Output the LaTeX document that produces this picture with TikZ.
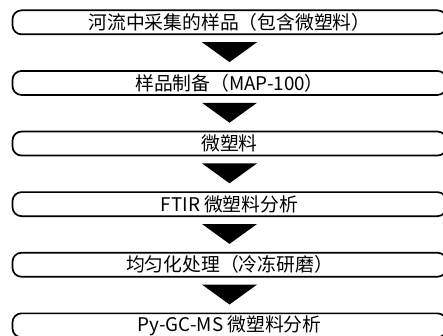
\documentclass[tikz,border=0pt]{standalone}
\usepackage{fontspec}
\setmainfont{Noto Sans CJK SC}
\usetikzlibrary{calc}
\tikzset{
  stepbox/.style={draw=black, line width=1.7pt, rounded corners=9pt, minimum width=434pt, minimum height=24pt, inner sep=0pt, font=\fontsize{18.8}{21}\selectfont, anchor=north},
  downtri/.style={fill=black}
}
\begin{document}
\begin{tikzpicture}[x=1pt,y=-1pt]
\useasboundingbox (0,0) rectangle (443,336);
\clip (0,0) rectangle (443,336);
\node[stepbox] (b1) at (229.5,9.5) {河流中采集的样品（包含微塑料）};
\node[stepbox] (b2) at (229.5,70.1) {样品制备（MAP-100）};
\node[stepbox] (b3) at (229.5,130.7) {微塑料};
\node[stepbox] (b4) at (229.5,191.3) {FTIR 微塑料分析};
\node[stepbox] (b5) at (229.5,251.9) {均匀化处理（冷冻研磨）};
\node[stepbox] (b6) at (229.5,312.5) {Py-GC-MS 微塑料分析};
\foreach \a/\b in {b1/b2,b2/b3,b3/b4,b4/b5,b5/b6}{
  \fill[downtri] ($(\a.south)+(-27.5,7)$) -- ($(\a.south)+(27.5,7)$) -- ($(\b.north)+(0,-8)$) -- cycle;
}
\end{tikzpicture}
\end{document}
